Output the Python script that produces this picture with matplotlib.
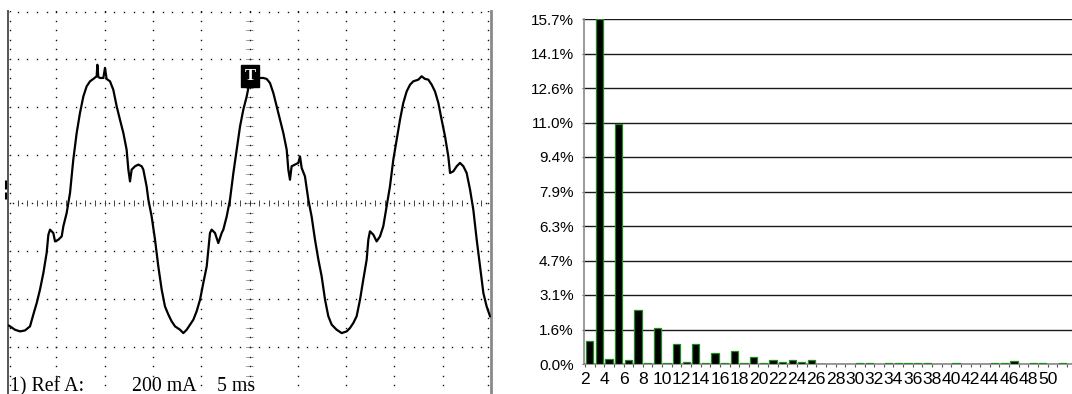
import numpy as np
import matplotlib
matplotlib.use('Agg')
from matplotlib import pyplot as plt

plt.rcParams['font.family'] = ['Liberation Sans', 'DejaVu Sans']

# scope trace (time in ms, current in mA)
trace_ms = [0.10, 0.72, 1.24, 1.76, 2.28, 2.62, 2.97, 3.31, 3.66, 4.00, 4.18, 4.35, 4.69, 4.87,
            5.21, 5.56, 5.73, 6.07, 6.25, 6.42, 6.76, 7.11, 7.45, 7.80, 8.14, 8.49, 8.83, 9.18,
            9.25, 9.35, 9.52, 9.87, 10.04, 10.21, 10.56, 10.90, 11.25, 11.59, 11.94, 12.28, 12.46,
            12.63, 12.80, 13.15, 13.49, 13.84, 14.01, 14.35, 14.53, 14.87, 15.22, 15.56, 15.91,
            16.25, 16.60, 16.94, 17.29, 17.81, 18.15, 18.50, 18.84, 19.19, 19.53, 19.88, 20.22,
            20.57, 20.74, 20.91, 21.08, 21.43, 21.77, 22.12, 22.29, 22.64, 22.98, 23.33, 23.67,
            24.02, 24.36, 24.71, 24.88, 25.12, 25.40, 25.91, 26.43, 26.78, 27.12, 27.47, 27.81,
            28.16, 28.50, 28.85, 29.02, 29.19, 29.36, 29.71, 30.05, 30.23, 30.40, 30.74, 31.09,
            31.43, 31.78, 32.13, 32.47, 32.82, 33.16, 33.51, 34.02, 34.54, 35.06, 35.40, 35.75,
            36.09, 36.44, 36.78, 37.13, 37.30, 37.47, 37.82, 38.16, 38.51, 38.85, 39.20, 39.54,
            39.89, 40.23, 40.58, 40.92, 41.27, 41.62, 41.96, 42.48, 42.82, 43.17, 43.51, 43.86,
            44.20, 44.55, 44.89, 45.24, 45.58, 45.76, 46.10, 46.45, 46.79, 47.14, 47.48, 47.83,
            48.17, 48.52, 48.86, 49.21, 49.55, 49.90]
trace_ma = [-511, -528, -535, -531, -514, -465, -417, -361, -292, -208, -132, -111, -125, -160,
            -153, -139, -97, -42, 0, 42, 181, 292, 375, 444, 486, 507, 517, 528,
            576, 525, 521, 521, 563, 517, 507, 472, 403, 347, 292, 222, 139,
            90, 139, 153, 160, 153, 139, 69, 14, -56, -153, -264, -361,
            -431, -465, -493, -514, -528, -542, -528, -507, -486, -451, -403, -333,
            -264, -194, -125, -111, -125, -167, -125, -111, -56, 14, 125, 222,
            319, 389, 444, 479, 507, 514, 521, 521, 517, 500, 458, 403,
            347, 292, 222, 139, 97, 153, 160, 167, 194, 146, 111, 14,
            -56, -153, -236, -306, -403, -472, -507, -528, -542, -535, -521, -500,
            -472, -403, -319, -236, -153, -118, -132, -160, -139, -97, -14, 69,
            181, 264, 347, 417, 465, 493, 507, 514, 528, 517, 514, 493,
            465, 417, 347, 278, 194, 125, 132, 153, 167, 153, 125, 56,
            -28, -153, -264, -375, -431, -472]

scope_labels = ['1) Ref A:', '200 mA', '5 ms']

# harmonic spectrum (% of fundamental)
harmonics = list(range(2, 53))
harm_pct = [1.03, 15.7, 0.21, 10.9, 0.17, 2.45, 0.04, 1.62, 0.04, 0.92,
            0.10, 0.92, 0.05, 0.52, 0.05, 0.57, 0.05, 0.30, 0.05, 0.20,
            0.10, 0.20, 0.10, 0.20, 0.02, 0.0, 0.0, 0.0, 0.03, 0.06,
            0.0, 0.03, 0.03, 0.03, 0.03, 0.03, 0.0, 0.0, 0.03, 0.0,
            0.0, 0.0, 0.06, 0.04, 0.12, 0.0, 0.04, 0.06, 0.0, 0.04, 0.0]
y_ticks = [0.0, 1.57, 3.14, 4.71, 6.28, 7.85, 9.42, 10.99, 12.56, 14.13, 15.7]
y_labels = ['0.0%', '1.6%', '3.1%', '4.7%', '6.3%', '7.9%', '9.4%', '11.0%', '12.6%', '14.1%', '15.7%']
x_labels = [str(h) if h % 2 == 0 and h <= 50 else '' for h in harmonics]

W, H = 1072, 394


def draw_scope(ax):
    ax.set_xlim(0, 50)
    ax.set_ylim(-800, 800)
    ax.set_xticks([])
    ax.set_yticks([])
    for s in ['top', 'bottom']:
        ax.spines[s].set_visible(False)
    ax.spines['left'].set_color('#555555')
    ax.spines['left'].set_linewidth(1.4)
    ax.spines['right'].set_color('#8a8a8a')
    ax.spines['right'].set_linewidth(2.0)

    dot = dict(ls='none', marker='s', ms=1.0, mew=0, color='#111111')
    xs = np.arange(0, 50.01, 1.0)
    ys = np.arange(-800, 800.1, 40)
    for lvl in [-600, -400, -200, 200, 400, 600, 795]:
        ax.plot(xs, np.full_like(xs, lvl), **dot)
    for t in [0.25, 5, 10, 15, 20, 30, 35, 40, 45, 49.7]:
        ax.plot(np.full_like(ys, t), ys, **dot)
    # centre cross with small marks
    ax.plot(np.arange(0.5, 50, 1.0), np.zeros(50), **dot)
    ax.vlines(xs[1:-1], -13, 13, color='#444444', lw=0.7)
    ax.hlines(ys[1:-1], 24.65, 25.35, color='#444444', lw=0.7, linestyles=(0, (1, 1)))
    ax.plot(np.full_like(ys, 25), ys, **dot)

    ax.plot(trace_ms, trace_ma, color='black', lw=1.6, zorder=5)

    # trigger marker
    ax.text(25.05, 528, 'T', ha='center', va='center', color='white', fontsize=12,
            fontweight='bold', family='Liberation Serif', zorder=6,
            bbox=dict(boxstyle='square,pad=0.18', fc='black', ec='black'))
    # channel ground marker
    ax.plot([-0.16, -0.16], [97, 59], color='black', lw=2.2, clip_on=False, solid_capstyle='butt')
    ax.plot([-0.16, -0.16], [47, 18], color='black', lw=2.2, clip_on=False, solid_capstyle='butt')

    for lab, xp in zip(scope_labels, [10, 132, 217]):
        ax.text((xp - 8) / 483, 4 / 384, lab, transform=ax.transAxes, ha='left', va='baseline',
                fontsize=14.3, family='Liberation Serif', color='black', zorder=7)


def draw_spectrum(ax):
    h = np.array(harmonics)
    v = np.array(harm_pct)
    keep = v > 0
    ax.bar(h[keep] + 0.5, v[keep], width=0.75, color='black', edgecolor='#1e8c1e', lw=0.9, zorder=3)
    ax.set_xlim(1.9, 1.9 + 488 / 9.64)
    ax.set_ylim(0, 15.7)
    ax.set_yticks(y_ticks)
    ax.set_yticklabels(y_labels, fontsize=11)
    ax.set_xticks(harmonics)
    ax.set_xticklabels(x_labels, fontsize=12.6)
    ax.yaxis.grid(True, color='#1a1a1a', lw=1.0)
    ax.set_axisbelow(True)
    for s in ['top', 'right']:
        ax.spines[s].set_visible(False)
    for s in ['left', 'bottom']:
        ax.spines[s].set_color('#8a8a8a')
        ax.spines[s].set_linewidth(1.2)
    ax.tick_params(axis='y', length=1.5, width=0.8, color='#555555', pad=6)
    ax.tick_params(axis='x', length=2.5, width=0.8, color='#555555', pad=3.5)


fig = plt.figure(figsize=(W / 100, H / 100), dpi=100)
ax1 = fig.add_axes([8 / W, -1 / H, 483 / W, 384 / H])
ax2 = fig.add_axes([584 / W, (H - 364) / H, (W - 584) / W, 345 / H])
draw_scope(ax1)
draw_spectrum(ax2)
fig.savefig('out.png', dpi=100)
